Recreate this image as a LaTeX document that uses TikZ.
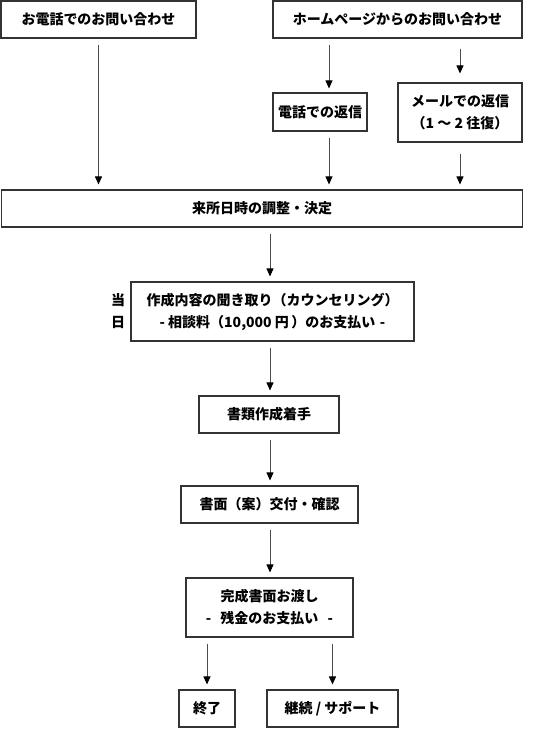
\documentclass[tikz,border=0pt]{standalone}
\usepackage{fontspec}
\setmainfont{Noto Sans CJK JP}
\usepackage{tikz}
\usetikzlibrary{positioning,arrows.meta,calc}

\begin{document}
\begin{tikzpicture}[x=1pt, y=-1pt,
  box/.style={draw=black!80, line width=1.1pt, align=center, inner sep=0pt, font=\fontsize{14}{22}\selectfont\bfseries},
  lab/.style={align=center, font=\fontsize{14}{22}\selectfont\bfseries},
  arr/.style={-{Triangle[width=7pt,length=8pt,black]}, draw=black!70, line width=0.9pt, shorten <=6pt, shorten >=5pt}]
\useasboundingbox (0,0) rectangle (539,729);
\node[box, minimum width=195pt, minimum height=37pt] (phone) at (98.5,19.5) {お電話でのお問い合わせ};
\node[box, minimum width=249pt, minimum height=37pt] (web) at (397.5,19.5) {ホームページからのお問い合わせ};
\node[box, minimum width=94pt, minimum height=38pt] (tel) at (320,112) {電話での返信};
\node[box, minimum width=124pt, minimum height=59pt] (mail) at (460,112.5) {メールでの返信\\（1 ～ 2 往復）};
\node[box, minimum width=521pt, minimum height=37pt] (visit) at (262,208.5) {来所日時の調整・決定};
\node[box, minimum width=283pt, minimum height=59pt] (counsel) at (272.5,311.5)
  {作成内容の聞き取り（カウンセリング）\\- 相談料（10,000 円\,）のお支払い\,\,-};
\node[lab] (day) at (118,311.5) {当\\日};
\node[box, minimum width=140pt, minimum height=37pt] (start) at (269,414.5) {書類作成着手};
\node[box, minimum width=177pt, minimum height=37pt] (draft) at (269.5,504.5) {書面（案）交付・確認};
\node[box, minimum width=167pt, minimum height=59pt] (deliver) at (269.5,607.5) {完成書面お渡し\\-\hspace{6pt} 残金のお支払い\hspace{6pt} -};
\node[box, minimum width=56pt, minimum height=37pt] (end) at (207,708.5) {終了};
\node[box, minimum width=131pt, minimum height=37pt] (support) at (332.5,708.5) {継続 / サポート};
\draw[arr] (phone.south) -- (phone.south |- visit.north);
\draw[arr, shorten >=4pt] ([xshift=9pt]tel.north |- web.south) -- ([xshift=9pt]tel.north);
\draw[arr, shorten <=10pt, shorten >=9pt] (web.south -| mail.north) -- (mail.north);
\draw[arr] ([xshift=9pt]tel.south) -- ([xshift=9pt]tel.south |- visit.north);
\draw[arr, shorten <=11pt] (mail.south) -- (mail.south |- visit.north);
\draw[arr] (visit.south -| 270,0) -- (counsel.north -| 270,0);
\draw[arr] (counsel.south -| 270,0) -- (start.north -| 270,0);
\draw[arr] (start.south -| 270,0) -- (draft.north -| 270,0);
\draw[arr] (draft.south -| 270,0) -- (deliver.north -| 270,0);
\draw[arr] (deliver.south -| end.north) -- (end.north);
\draw[arr] (deliver.south -| support.north) -- (support.north);
\end{tikzpicture}
\end{document}
